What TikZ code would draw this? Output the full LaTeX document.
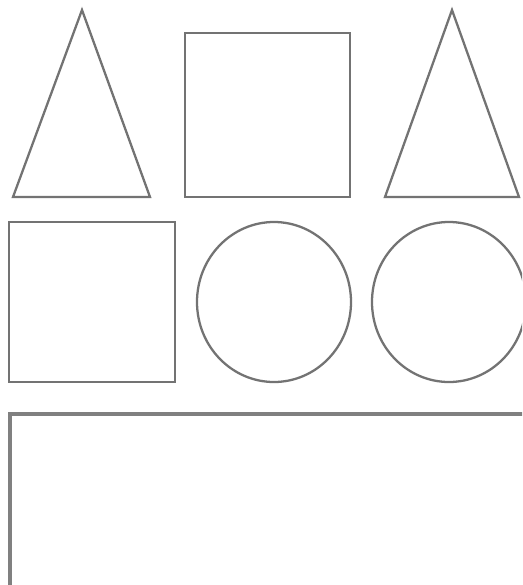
\documentclass[tikz,border=0pt]{standalone}
\usepackage{tikz}

\begin{document}
\begin{tikzpicture}[
  x=0.02cm, y=-0.02cm,
  shp/.style={draw=gray!90!black, line width=1.3pt, line join=miter},
  thickshp/.style={draw=gray, line width=2.3pt}
]

  % ========== CANVAS ==========
  \useasboundingbox (0,0) rectangle (522,585);
  \clip (0,0) rectangle (522,585);

  % ========== ROW 1 ==========
  \draw[shp] (13,197) -- (82,10) -- (150,197) -- cycle;
  \draw[shp] (185,33) rectangle (350,197);
  \draw[shp] (385,197) -- (452,10) -- (519,197) -- cycle;

  % ========== ROW 2 ==========
  \draw[shp] (9,222) rectangle (175,382);
  \draw[shp] (274,302) ellipse [x radius=77, y radius=80];
  \draw[shp] (449,302) ellipse [x radius=77, y radius=80];

  % ========== ROW 3 ==========
  \draw[thickshp] (10,620) -- (10,414) -- (560,414);

\end{tikzpicture}
\end{document}
